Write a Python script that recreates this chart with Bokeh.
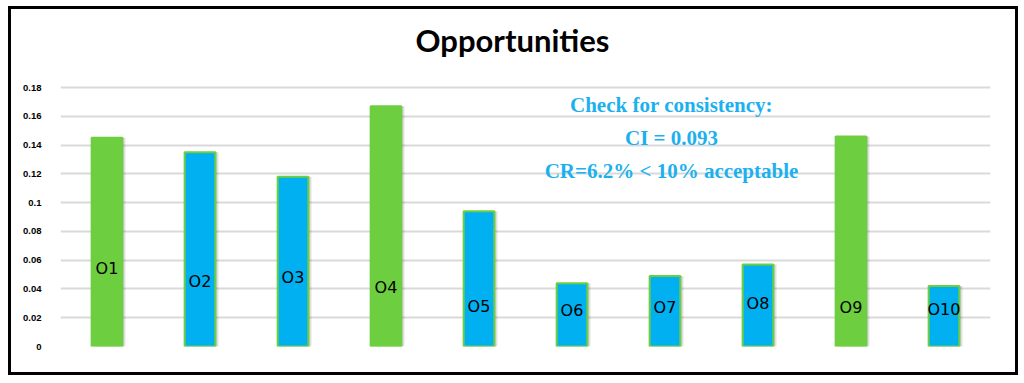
from bokeh.plotting import figure
from bokeh.embed import file_html
from bokeh.resources import INLINE
from bokeh.models import ColumnDataSource, Range1d, FixedTicker
from bokeh.transform import dodge
from bokeh.core.properties import value

categories = ["O1", "O2", "O3", "O4", "O5", "O6", "O7", "O8", "O9", "O10"]
weights = [0.145, 0.135, 0.118, 0.167, 0.094, 0.044, 0.049, 0.057, 0.146, 0.042]
label_y = [0.054, 0.045, 0.048, 0.041, 0.028, 0.025, 0.027, 0.030, 0.027, 0.026]
bar_colors = ["#6DCF40", "#00B0F0", "#00B0F0", "#6DCF40", "#00B0F0",
              "#00B0F0", "#00B0F0", "#00B0F0", "#6DCF40", "#00B0F0"]
y_ticks = [0, 0.02, 0.04, 0.06, 0.08, 0.1, 0.12, 0.14, 0.16, 0.18]
tick_labels = {0: "0", 0.02: "0.02", 0.04: "0.04", 0.06: "0.06", 0.08: "0.08",
               0.1: "0.1", 0.12: "0.12", 0.14: "0.14", 0.16: "0.16", 0.18: "0.18"}
title_text = ["Opportunities"]
note_lines = ["Check for consistency:", "CI = 0.093", "CR=6.2% < 10% acceptable"]
note_y = [0.1675, 0.1446, 0.1223]
note_x = [6.57, 6.57, 6.57]

src = ColumnDataSource(dict(cat=categories, w=weights, ly=label_y, color=bar_colors))

# frame extends above the top tick so the title can sit inside it
top_px, grid_px = 332, 259
y_end = 0.18 * top_px / grid_px

p = figure(x_range=categories, y_range=Range1d(0, y_end),
           width=1010, height=369, output_backend="svg", toolbar_location=None,
           min_border_left=49, min_border_right=31, min_border_top=5, min_border_bottom=32,
           styles={"border": "3px solid black", "margin-left": "8px", "margin-top": "6px"})

p.outline_line_color = None
p.xaxis.visible = False
p.xgrid.grid_line_color = None
p.ygrid.grid_line_color = "#D9D9D9"
p.ygrid.grid_line_width = 2

p.yaxis.ticker = FixedTicker(ticks=y_ticks)
p.yaxis.major_label_overrides = tick_labels
p.yaxis.axis_line_color = None
p.yaxis.major_tick_line_color = None
p.yaxis.minor_tick_line_color = None
p.yaxis.major_label_standoff = 13
p.yaxis.major_label_text_font = "Liberation Sans"
p.yaxis.major_label_text_font_style = "bold"
p.yaxis.major_label_text_font_size = "9.5px"
p.yaxis.major_label_text_color = "black"

# title
p.text(x=[4.86], y=[0.2127], text=title_text, text_align="center", text_baseline="middle",
       text_font=value("Lato"), text_font_style="bold", text_font_size="31px",
       text_color="black")

# shadows
p.vbar(x=dodge("cat", 0.035, range=p.x_range), top="w", width=0.33, source=src,
       fill_color="#000000", fill_alpha=0.10, line_color=None)
p.vbar(x=dodge("cat", 0.02, range=p.x_range), top="w", width=0.33, source=src,
       fill_color="#000000", fill_alpha=0.10, line_color=None)
# bars
p.vbar(x="cat", top="w", width=0.33, source=src,
       fill_color="color", line_color="#6DCF40", line_width=2)

p.text(x="cat", y="ly", text="cat", source=src, text_align="center",
       text_baseline="middle", text_font=value("DejaVu Sans"),
       text_font_size="16px", text_color="black")

p.text(x=note_x, y=note_y, text=note_lines, text_align="center", text_baseline="middle",
       text_font=value("Liberation Serif"), text_font_style="bold",
       text_font_size="21px", text_color="#1CB1EE")

open("out.html", "w").write(file_html(p, INLINE))
